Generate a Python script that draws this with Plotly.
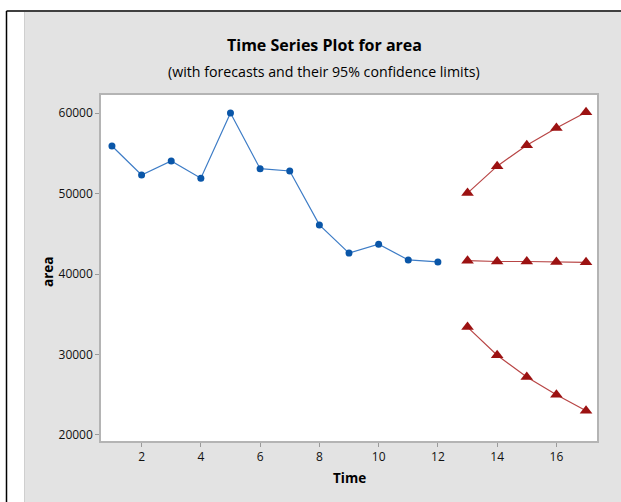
import plotly.graph_objects as go

time_obs = [1, 2, 3, 4, 5, 6, 7, 8, 9, 10, 11, 12]
area_obs = [55900, 52300, 54050, 51900, 60000, 53080, 52800, 46100, 42600, 43700, 41750, 41500]

time_fc = [13, 14, 15, 16, 17]
forecast = [41650, 41550, 41550, 41500, 41450]
upper = [50050, 53400, 56000, 58150, 60100]
lower = [33400, 29900, 27200, 25000, 23000]

x_ticks = [2, 4, 6, 8, 10, 12, 14, 16]
y_ticks = [20000, 30000, 40000, 50000, 60000]

W, H = 621, 502
L, R, T, B = 101, 597, 95, 441
pw, ph = R - L, B - T


def px(x):
    return (x - L) / pw


def py(y):
    return (B - y) / ph


fig = go.Figure()
fig.add_trace(go.Scatter(
    x=time_obs, y=area_obs, mode="lines+markers",
    line=dict(color="#3d7cc6", width=1.2),
    marker=dict(color="#0a56a8", size=7, symbol="circle"),
    showlegend=False))

red_line = dict(color="#b84545", width=1.2)
red_marker = dict(color="#9c1212", size=11, symbol="triangle-up")
for s in (upper, forecast, lower):
    fig.add_trace(go.Scatter(
        x=time_fc, y=s, mode="lines+markers",
        line=red_line, marker=red_marker, showlegend=False))

shapes = [
    dict(type="rect", xref="paper", yref="paper",
         x0=px(-5), x1=px(24), y0=py(-5), y1=py(H + 10),
         fillcolor="white", line=dict(width=0), layer="above"),
    dict(type="rect", xref="paper", yref="paper",
         x0=px(-5), x1=px(W + 5), y0=py(-5), y1=py(12),
         fillcolor="white", line=dict(width=0), layer="above"),
    dict(type="line", xref="paper", yref="paper",
         x0=px(6.5), x1=px(W + 5), y0=py(11), y1=py(11),
         line=dict(color="black", width=1.5), layer="above"),
    dict(type="line", xref="paper", yref="paper",
         x0=px(6.5), x1=px(6.5), y0=py(11), y1=py(H + 5),
         line=dict(color="black", width=1.5), layer="above"),
    dict(type="line", xref="paper", yref="paper",
         x0=px(24.5), x1=px(24.5), y0=py(12), y1=py(H + 5),
         line=dict(color="#cfcfcf", width=1), layer="above"),
]

font_family = "Open Sans, Noto Sans, DejaVu Sans, sans-serif"
annotations = [
    dict(text="<b>Time Series Plot for area</b>", xref="paper", yref="paper",
         x=px(324), y=py(45), xanchor="center", yanchor="middle",
         showarrow=False, font=dict(family=font_family, size=16, color="black")),
    dict(text="(with forecasts and their 95% confidence limits)", xref="paper", yref="paper",
         x=px(324), y=py(72), xanchor="center", yanchor="middle",
         showarrow=False, font=dict(family=font_family, size=14.2, color="black")),
    dict(text="<b>Time</b>", xref="paper", yref="paper",
         x=px(349), y=py(478), xanchor="center", yanchor="middle",
         showarrow=False, font=dict(family=font_family, size=13.5, color="black")),
    dict(text="<b>area</b>", xref="paper", yref="paper",
         x=px(48), y=py(272), xanchor="center", yanchor="middle", textangle=-90,
         showarrow=False, font=dict(family=font_family, size=13.5, color="black")),
]

fig.update_layout(
    width=W, height=H,
    margin=dict(l=L, r=W - R, t=T, b=H - B, pad=0),
    paper_bgcolor="#e3e3e3",
    plot_bgcolor="white",
    shapes=shapes,
    annotations=annotations,
    font=dict(family=font_family, size=12, color="black"),
)
fig.update_xaxes(
    range=[0.63, 17.37], tickvals=x_ticks, ticktext=[str(v) for v in x_ticks],
    showgrid=False, zeroline=False, showline=True, mirror=True,
    linecolor="#b4b4b4", linewidth=1.5, ticks="outside", ticklen=4,
    tickcolor="#9a9a9a", tickfont=dict(size=12, color="#111111"))
fig.update_yaxes(
    range=[19250, 62240], tickvals=y_ticks, ticktext=[str(v) for v in y_ticks],
    showgrid=False, zeroline=False, showline=True, mirror=True,
    linecolor="#b4b4b4", linewidth=1.5, ticks="outside", ticklen=4,
    tickcolor="#9a9a9a", tickfont=dict(size=12, color="#111111"))

fig.write_html(
    "out.html",
    config={"displayModeBar": False},
    post_script="document.body.style.margin='0';document.body.style.overflow='hidden';")
